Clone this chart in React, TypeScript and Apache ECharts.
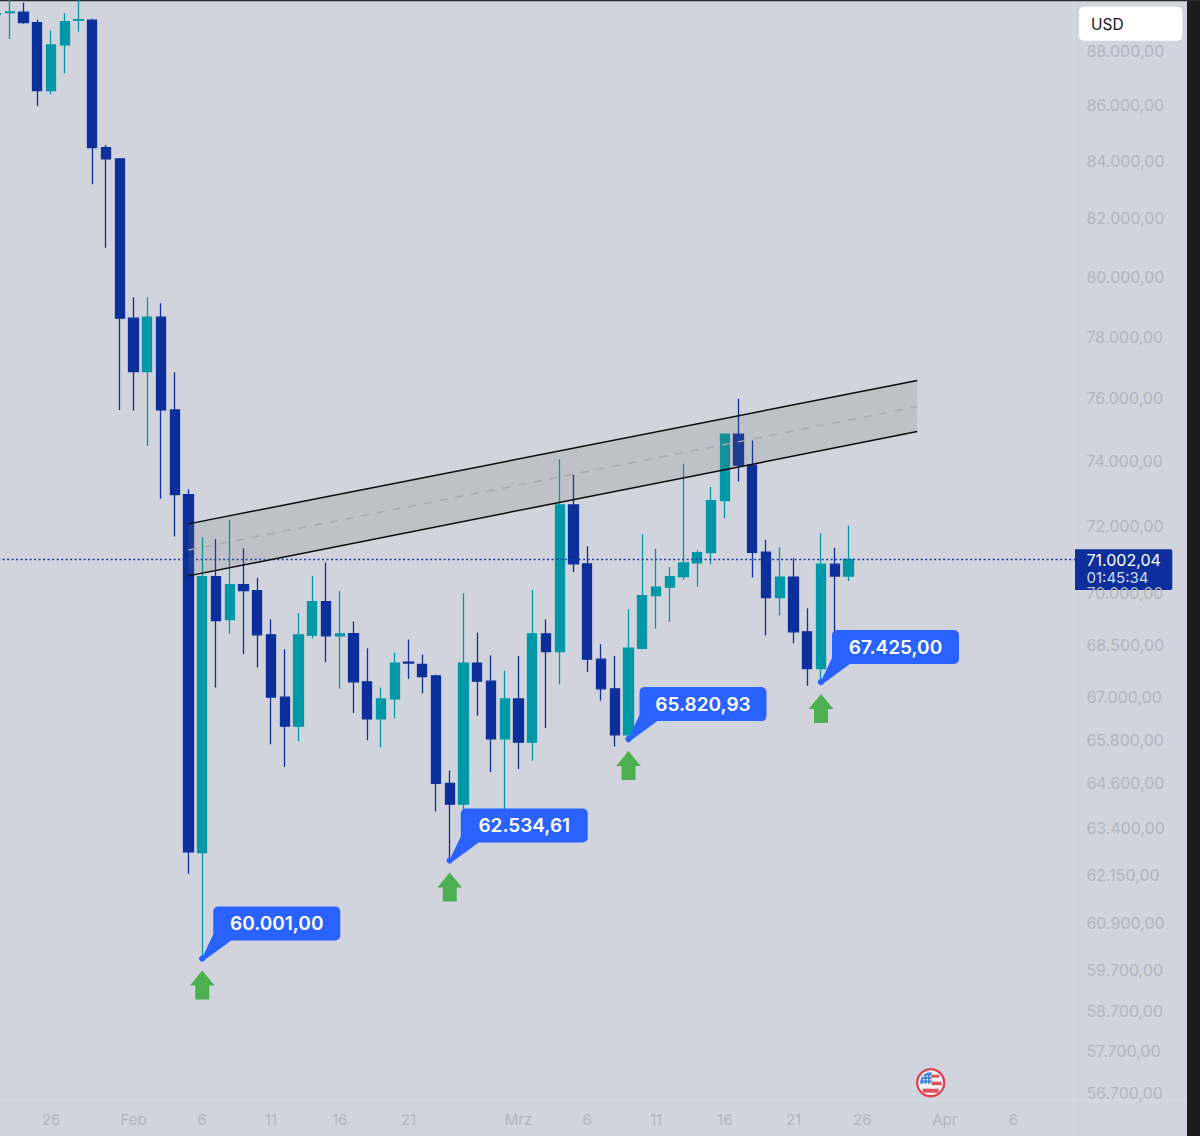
import { useEffect, useRef } from 'react'
import * as echarts from 'echarts'

// daily candles, Jan 22 .. Mar 25, the rest of the axis stays empty
const dates = [
  '01-22', '01-23', '01-24', '01-25', '01-26', '01-27', '01-28', '01-29', '01-30', '01-31',
  '02-01', '02-02', '02-03', '02-04', '02-05', '02-06', '02-07', '02-08', '02-09', '02-10',
  '02-11', '02-12', '02-13', '02-14', '02-15', '02-16', '02-17', '02-18', '02-19', '02-20',
  '02-21', '02-22', '02-23', '02-24', '02-25', '02-26', '02-27', '02-28', '03-01', '03-02',
  '03-03', '03-04', '03-05', '03-06', '03-07', '03-08', '03-09', '03-10', '03-11', '03-12',
  '03-13', '03-14', '03-15', '03-16', '03-17', '03-18', '03-19', '03-20', '03-21', '03-22',
  '03-23', '03-24', '03-25', '03-26', '03-27', '03-28', '03-29', '03-30', '03-31', '04-01',
  '04-02', '04-03', '04-04', '04-05', '04-06', '04-07', '04-08', '04-09', '04-10'
]

const opens = [
  89360, 89430, 89441, 89051, 86528, 88214, 89140, 89141, 84472, 84072,
  78610, 76860, 78643, 75627, 72971, 62744, 70492, 69227, 70256, 70077,
  68781, 66995, 66182, 68772, 69751, 68751, 68818, 67431, 66388, 66946,
  67993, 67925, 67603, 64601, 64039, 67965, 67450, 65828, 66946, 65736,
  68810, 68296, 72655, 70871, 68079, 67231, 65940, 68393, 69928, 70178,
  70492, 70900, 71208, 72786, 74857, 73885, 71219, 69869, 70476, 68868,
  67811, 70862, 70506
]
const closes = [
  89390, 89450, 89051, 86528, 88214, 89088, 89160, 84472, 84072, 78610,
  76860, 78643, 75627, 72971, 62763, 70492, 69198, 70256, 70077, 68781,
  66995, 66182, 68781, 69751, 68751, 68810, 67431, 66388, 66946, 67965,
  67965, 67583, 64601, 64039, 67965, 67450, 65828, 66946, 65736, 68810,
  68296, 72655, 70871, 68079, 67231, 65940, 68393, 69928, 70178, 70492,
  70900, 71208, 72786, 74857, 73885, 71219, 69869, 70476, 68868, 67811,
  70862, 70506, 71002.04
]
const lows = [
  89300, 88439, 89002, 85973, 86399, 87168, 88702, 83182, 80983, 75627,
  75605, 74486, 72847, 71692, 62186, 60001, 67269, 68810, 68221, 67840,
  65680, 65049, 65764, 68673, 67993, 67240, 66547, 65792, 65585, 66396,
  67508, 67106, 63840, 62534.61, 63752, 66472, 64912, 63886, 64994, 65221,
  66128, 67365, 70625, 67708, 66898, 65613, 65820.93, 68364, 68965, 69160,
  70396, 70196, 70862, 72251, 73376, 70465, 68760, 69343, 68539, 67317,
  67425, 68635, 70357
]
const highs = [
  89500, 90200, 89800, 89152, 88751, 89403, 90200, 89190, 84569, 84107,
  79307, 79307, 79107, 76840, 73139, 71674, 71622, 72200, 71340, 70456,
  69238, 68364, 69413, 70506, 70912, 70068, 69169, 68393, 67260, 68267,
  68644, 68210, 67631, 64956, 70000, 68839, 68193, 67745, 68173, 70098,
  69227, 74071, 73575, 71400, 68510, 68173, 69529, 71765, 71318, 70781,
  73925, 71280, 73203, 74889, 75986, 74654, 71592, 71370, 71041, 69558,
  71789, 71358, 72017
]

const priceTicks = [
  88000, 86000, 84000, 82000, 80000, 78000, 76000, 74000, 72000, 70000, 68500,
  67000, 65800, 64600, 63400, 62150, 60900, 59700, 58700, 57700, 56700
]
const dateLabels: Record<string, string> = {
  '01-26': '26', '02-01': 'Feb', '02-06': '6', '02-11': '11', '02-16': '16', '02-21': '21',
  '03-01': 'Mrz', '03-06': '6', '03-11': '11', '03-16': '16', '03-21': '21', '03-26': '26',
  '04-01': 'Apr', '04-06': '6'
}

// parallel channel: start and end of its three lines
const channelDates = ['02-05', '03-30']
const channelTop = [72077, 76568]
const channelMid = [71288, 75732]
const channelBottom = [70513, 74939]

const lastPrice = 71002.04
const lastPriceLabel = '71.002,04'
const countdown = '01:45:34'

// the four swing lows with their callouts
const calloutDates = ['02-06', '02-24', '03-09', '03-23']
const calloutPrices = [60001, 62534.61, 65820.93, 67425]
const calloutLabels = ['60.001,00', '62.534,61', '65.820,93', '67.425,00']

const BG = '#d1d4dc'
const DARK = '#0c2f9b'
const TEAL = '#0097a7'
const BLUE = '#2962ff'
const GREEN = '#4caf50'
const LABEL = '#b2b5be'
const FONT = 'Inter, sans-serif'

const fmtPrice = (v: number) => {
  const n = Math.round(v)
  const th = Math.floor(n / 1000)
  const rest = String(n % 1000).padStart(3, '0')
  return `${th}.${rest},00`
}

echarts.graphic.registerShape('flagCanton', echarts.graphic.extendPath('M-10.5 1A10.5 10.5 0 0 1 1-10.5L1 1Z', {}))

function channelItem(_params: any, api: any) {
  const line = (vals: number[]) => [
    api.coord([dates.indexOf(channelDates[0]), vals[0]]),
    api.coord([dates.indexOf(channelDates[1]), vals[1]])
  ]
  const top = line(channelTop)
  const mid = line(channelMid)
  const bottom = line(channelBottom)
  return {
    type: 'group',
    children: [
      {
        type: 'polygon',
        shape: { points: [top[0], top[1], bottom[1], bottom[0]] },
        style: { fill: 'rgba(110,110,110,0.19)' }
      },
      {
        type: 'line',
        shape: { x1: mid[0][0], y1: mid[0][1], x2: mid[1][0], y2: mid[1][1] },
        style: { stroke: '#a6a8ad', lineWidth: 1.4, lineDash: [8, 8] }
      },
      {
        type: 'line',
        shape: { x1: top[0][0], y1: top[0][1], x2: top[1][0], y2: top[1][1] },
        style: { stroke: '#0a0a0a', lineWidth: 1.5 }
      },
      {
        type: 'line',
        shape: { x1: bottom[0][0], y1: bottom[0][1], x2: bottom[1][0], y2: bottom[1][1] },
        style: { stroke: '#0a0a0a', lineWidth: 1.5 }
      }
    ]
  }
}

function calloutItem(params: any, api: any) {
  const i = params.dataIndex
  const [x, y] = api.coord([dates.indexOf(calloutDates[i]), calloutPrices[i]])
  return {
    type: 'group',
    children: [
      { type: 'circle', shape: { cx: x, cy: y, r: 3.2 }, style: { fill: BLUE } },
      {
        type: 'polygon',
        shape: { points: [[x + 1, y - 3], [x + 11, y - 24], [x + 29, y - 18], [x + 3, y + 1]] },
        style: { fill: BLUE }
      },
      {
        type: 'rect',
        shape: { x: x + 11, y: y - 52, width: 127, height: 34, r: 5 },
        style: { fill: BLUE }
      },
      {
        type: 'text',
        style: {
          text: calloutLabels[i],
          x: x + 74.5,
          y: y - 35,
          fill: '#ffffff',
          fontFamily: FONT,
          fontSize: 19,
          fontWeight: 600,
          align: 'center',
          verticalAlign: 'middle'
        }
      },
      {
        type: 'polygon',
        shape: {
          points: [
            [x, y + 12], [x + 12.3, y + 27], [x + 7, y + 27], [x + 7, y + 41],
            [x - 7, y + 41], [x - 7, y + 27], [x - 12.3, y + 27]
          ]
        },
        style: { fill: GREEN }
      }
    ]
  }
}

function flagGraphic() {
  const cx = 930.7
  const cy = 1082.7
  const dots: any[] = []
  for (let r = 0; r < 3; r++) {
    for (let c = 0; c < 3; c++) {
      dots.push({ type: 'circle', x: cx - 7 + c * 3.4, y: cy - 6.4 + r * 3.4, shape: { r: 0.8 }, style: { fill: '#ffffff' } })
    }
  }
  return [
    { type: 'circle', x: cx, y: cy, shape: { r: 14.7 }, style: { fill: '#dd4455' } },
    { type: 'circle', x: cx, y: cy, shape: { r: 12.4 }, style: { fill: '#f4f5f7' } },
    { type: 'flagCanton', x: cx, y: cy, style: { fill: '#3f83e0' } },
    { type: 'rect', shape: { x: cx + 1, y: cy - 8, width: 7.5, height: 3 }, style: { fill: '#e4505c' } },
    { type: 'rect', shape: { x: cx + 1, y: cy - 1, width: 10, height: 3.5 }, style: { fill: '#e4505c' } },
    { type: 'rect', shape: { x: cx - 8, y: cy + 6, width: 16, height: 4 }, style: { fill: '#e4505c' } },
    ...dots
  ]
}

export default function App() {
  const chartRef = useRef<HTMLDivElement>(null)

  useEffect(() => {
    if (!chartRef.current) return
    document.body.style.margin = '0'
    const chart = echarts.init(chartRef.current, undefined, { renderer: 'svg' })

    chart.setOption({
      animation: false,
      backgroundColor: BG,
      textStyle: { fontFamily: FONT },
      grid: { left: -10.875, top: 0, width: 1086.25, height: 1100, containLabel: false, outerBoundsMode: 'none' },
      xAxis: {
        type: 'category',
        data: dates,
        boundaryGap: true,
        axisLine: { show: false },
        axisTick: { show: false },
        splitLine: { show: false },
        axisLabel: {
          interval: 0,
          margin: 12,
          color: LABEL,
          fontSize: 15,
          fontFamily: FONT,
          hideOverlap: false,
          formatter: (v: string) => dateLabels[v] || ''
        }
      },
      yAxis: {
        type: 'log',
        position: 'right',
        min: 56526,
        max: 89902,
        axisLine: { show: false },
        axisTick: { show: false },
        splitLine: { show: false },
        axisLabel: {
          customValues: priceTicks,
          margin: 11,
          color: LABEL,
          fontSize: 16,
          fontFamily: FONT,
          showMinLabel: true,
          showMaxLabel: true,
          formatter: (v: number) => fmtPrice(v)
        }
      },
      series: [
        {
          type: 'candlestick',
          barWidth: 9.6,
          z: 2,
          data: opens.map((o, i) => [o, closes[i], lows[i], highs[i]]),
          itemStyle: {
            color: TEAL,
            color0: DARK,
            borderColor: TEAL,
            borderColor0: DARK,
            borderWidth: 1.3
          },
          markLine: {
            silent: true,
            symbol: 'none',
            precision: 2,
            label: { show: false },
            lineStyle: { color: '#1a3aa8', type: [2, 2.5], width: 1.3 },
            data: [{ yAxis: lastPrice }]
          }
        },
        {
          type: 'custom',
          z: 5,
          clip: false,
          data: [[dates.indexOf(channelDates[0]), channelMid[0]]],
          encode: { x: 0, y: 1 },
          renderItem: channelItem
        },
        {
          type: 'custom',
          z: 6,
          clip: false,
          data: calloutPrices.map((p, i) => [dates.indexOf(calloutDates[i]), p]),
          encode: { x: 0, y: 1 },
          renderItem: calloutItem
        }
      ],
      graphic: [
        {
          type: 'group',
          z: 100,
          silent: true,
          children: [
            { type: 'line', shape: { x1: 0, y1: 1100, x2: 1187, y2: 1100 }, style: { stroke: '#d7dae1', lineWidth: 1 } },
            { type: 'line', shape: { x1: 1074, y1: 0, x2: 1074, y2: 1136 }, style: { stroke: '#d7dae1', lineWidth: 1 } },
            { type: 'rect', shape: { x: 1075, y: 549.3, width: 97.3, height: 40.7, r: [0, 2, 2, 0] }, style: { fill: DARK } },
            {
              type: 'text',
              style: { text: lastPriceLabel, x: 1086.5, y: 559.5, fill: '#ffffff', fontFamily: FONT, fontSize: 16, verticalAlign: 'middle' }
            },
            {
              type: 'text',
              style: { text: countdown, x: 1086.5, y: 577, fill: '#d3daee', fontFamily: FONT, fontSize: 15, verticalAlign: 'middle' }
            },
            { type: 'rect', shape: { x: 1079, y: 6.7, width: 103.3, height: 34, r: 5 }, style: { fill: '#ffffff' } },
            {
              type: 'text',
              style: { text: 'USD', x: 1091, y: 24, fill: '#131722', fontFamily: FONT, fontSize: 15.5, verticalAlign: 'middle' }
            },
            { type: 'rect', shape: { x: 1187, y: 0, width: 13, height: 1136 }, style: { fill: '#1c1c1c' } },
            { type: 'rect', shape: { x: 0, y: 0, width: 1200, height: 1.3 }, style: { fill: '#2a2b2e' } },
            ...flagGraphic()
          ]
        }
      ]
    })

    return () => {
      chart.dispose()
    }
  }, [])

  return <div ref={chartRef} style={{ position: 'absolute', left: 0, top: 0, width: 1200, height: 1136 }} />
}
